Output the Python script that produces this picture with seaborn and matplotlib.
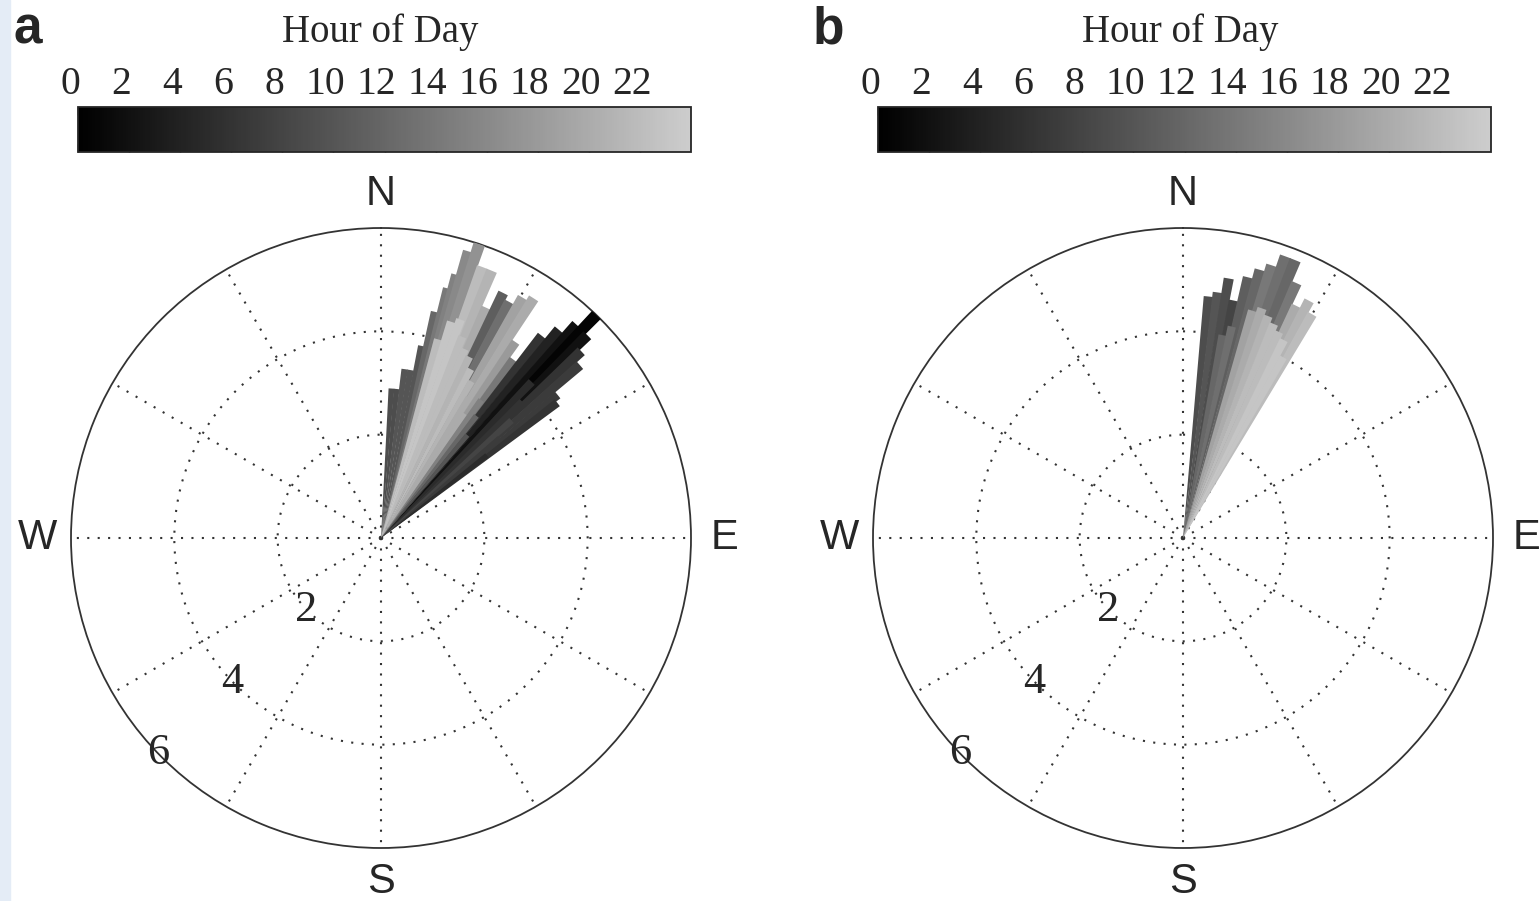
"""
Roses des vents colorees par heure du jour (panneaux a et b)
"""

import numpy as np
import matplotlib
matplotlib.use("Agg")
import matplotlib.pyplot as plt
import matplotlib.transforms as mtransforms
from matplotlib.colors import Normalize
from matplotlib.cm import ScalarMappable
from matplotlib.patches import Rectangle
import seaborn as sns

# Panneau a : direction (deg depuis le N), vitesse, heure
dir_a = [4, 6, 8, 10, 12, 13.5, 15, 16, 17, 18.5, 20.5, 22.5, 24.5, 26.5,
         28.5, 30.5, 32.5, 34.5, 36.5, 38.5, 40.5, 42.5, 44, 45.5, 47, 49,
         51, 52.5,
         16, 18, 20, 22, 24, 26, 28, 30, 32, 34,
         36, 38, 40,
         44, 46, 48, 50, 52]
speed_a = [2.9, 2.9, 3.3, 3.3, 3.8, 4.5, 5.0, 5.3, 5.8, 6.0, 5.6, 5.6, 4.9,
           5.3, 5.2, 5.4, 5.5, 4.6, 4.3, 5.0, 5.3, 5.6, 6.15, 5.6, 5.3, 5.1,
           4.4, 4.3,
           4.0, 4.4, 4.5, 4.2, 4.0, 3.9, 3.7, 3.5, 3.2, 2.9,
           3.3, 3.0, 2.6,
           4.2, 3.8, 3.4, 3.0, 2.6]
hour_a = [9, 9, 10, 10, 10, 12, 14, 15, 16, 17, 22, 21, 20, 11,
          13, 19, 20, 18, 14, 6, 4, 2, 0.5, 2, 6, 7,
          7, 6,
          22, 23, 23, 22, 22, 21, 22, 21, 20, 20,
          15, 12, 10,
          5, 6, 8, 7, 5]

# Panneau b
dir_b = [6, 8, 10, 12, 14, 16, 18, 20, 22, 24, 26, 28, 30,
         11, 13,
         17, 19, 21, 23, 25, 27, 29]
speed_b = [4.7, 4.8, 5.1, 4.7, 5.2, 5.4, 5.55, 5.8, 5.8, 5.4, 5.0, 5.2, 5.0,
           4.0, 4.2,
           4.6, 4.7, 4.6, 4.5, 4.4, 4.3, 4.0]
hour_b = [9, 10, 9, 8, 11, 12, 14, 13, 12, 14, 20, 21, 22,
          12, 13,
          19, 20, 21, 22, 22, 23, 23]

hour_ticks = list(range(0, 24, 2))
ring_labels = [2, 4, 6]
compass = [("N", 0), ("E", 90), ("S", 180), ("W", 270)]

cmap = sns.blend_palette(["#000000", "#cdcdcd"], as_cmap=True)
norm = Normalize(vmin=0, vmax=24)


def tracer_rose(ax, dirs, speeds, hours):
    """Dessine les secteurs et la grille polaire"""
    ax.set_theta_zero_location("N")
    ax.set_theta_direction(-1)
    ax.bar(np.deg2rad(dirs), speeds, width=np.deg2rad(2.2), bottom=0,
           color=cmap(norm(np.array(hours))), edgecolor="none", zorder=3)
    ax.set_ylim(0, 6)
    ax.set_rticks([2, 4])
    ax.set_yticklabels([])
    ax.set_thetagrids(range(0, 360, 30), labels=[])
    ax.grid(True, linestyle=(0, (1, 4)), color="#333333", linewidth=1.5)
    ax.spines["polar"].set_linewidth(1.3)
    ax.spines["polar"].set_color("#333333")
    for lettre, angle in compass:
        ax.text(np.deg2rad(angle), 6.65, lettre, ha="center", va="center",
                fontsize=30, family="Liberation Sans", clip_on=False)
    for r in ring_labels:
        ax.text(np.deg2rad(226), r, str(r), ha="center", va="center",
                fontsize=32, family="Liberation Serif", zorder=5)


def tracer_barre(fig, cax):
    """Barre de couleur horizontale Hour of Day"""
    cb = fig.colorbar(ScalarMappable(norm=norm, cmap=cmap), cax=cax,
                      orientation="horizontal")
    cb.set_ticks(hour_ticks)
    cb.outline.set_linewidth(1.3)
    cax.xaxis.set_ticks_position("both")
    cax.tick_params(direction="in", length=6, width=1, top=True, bottom=True,
                    labeltop=True, labelbottom=False, pad=3)
    decal = mtransforms.ScaledTranslation(-0.08, 0, fig.dpi_scale_trans)
    for lab in cax.get_xticklabels():
        lab.set_fontsize(28.5)
        lab.set_family("Liberation Serif")
        lab.set_transform(lab.get_transform() + decal)


def main():
    sns.set_style("white")
    plt.rcParams["font.family"] = ["Liberation Serif", "DejaVu Sans"]

    fig = plt.figure(figsize=(15.4, 9.01), dpi=100)
    fig.patches.append(Rectangle((0, 0), 10 / 1540, 1, color="#e4ecf6",
                                 transform=fig.transFigure, figure=fig))

    panneaux = [
        ("a", 71, 78, dir_a, speed_a, hour_a),
        ("b", 873, 878, dir_b, speed_b, hour_b),
    ]
    for lettre, x_polar, x_barre, dirs, speeds, hours in panneaux:
        ax = fig.add_axes([x_polar / 1540, 53 / 901, 620 / 1540, 620 / 901],
                          projection="polar")
        tracer_rose(ax, dirs, speeds, hours)
        cax = fig.add_axes([x_barre / 1540, 1 - 152 / 901, 613 / 1540, 45 / 901])
        tracer_barre(fig, cax)
        centre = (x_barre + 302) / 1540
        fig.text(centre, 1 - 32 / 901, "Hour of Day", ha="center", va="center",
                 fontsize=28, family="Liberation Serif")
        fig.text((x_barre - 50) / 1540, 1 - 30 / 901, lettre, ha="center",
                 va="center", fontsize=37, weight="bold", family="Liberation Sans")

    fig.savefig("out.png", dpi=100, facecolor="white")


if __name__ == "__main__":
    main()
